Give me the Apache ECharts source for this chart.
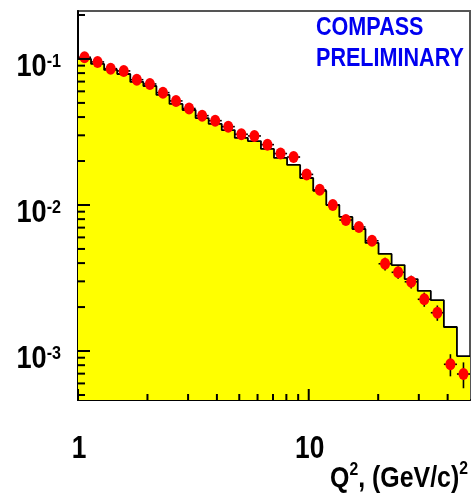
<!DOCTYPE html>
<html>
<head>
<meta charset="utf-8">
<script src="https://cdn.jsdelivr.net/npm/echarts@6/dist/echarts.min.js"></script>
<style>
  html, body { margin: 0; padding: 0; background: #ffffff; }
  #chart { width: 471px; height: 499px; }
</style>
</head>
<body>
<div id="chart"></div>
<script>
// Q^2 binning (GeV/c)^2: 30 log-uniform bins from 1 to 50
const qEdges = [1.000, 1.139, 1.298, 1.479, 1.685, 1.920, 2.187, 2.492, 2.839, 3.234,
                3.684, 4.198, 4.782, 5.448, 6.207, 7.071, 8.056, 9.178, 10.457, 11.913,
                13.572, 15.463, 17.617, 20.071, 22.867, 26.052, 29.680, 33.815, 38.525, 43.891,
                50.000];

// Monte Carlo histogram (yellow, black outline)
const mcValues = [0.1000, 0.0924, 0.0841, 0.0789, 0.0696, 0.0653, 0.0567, 0.0492, 0.0447, 0.0394,
                  0.0359, 0.0326, 0.0288, 0.0274, 0.0242, 0.0210, 0.0188, 0.0153, 0.0125, 0.0100,
                  0.00828, 0.00685, 0.00550, 0.00462, 0.00388, 0.00311, 0.00258, 0.00223, 0.00146, 0.000924];

// Measured data (red markers) and their statistical errors
const dataValues = [0.1027, 0.0954, 0.0858, 0.0828, 0.0721, 0.0674, 0.0588, 0.0516, 0.0458, 0.0409,
                    0.0378, 0.0344, 0.0305, 0.0297, 0.0259, 0.0225, 0.0213, 0.0162, 0.0127, 0.0100,
                    0.00789, 0.00707, 0.00569, 0.00396, 0.00346, 0.00298, 0.00226, 0.00183, 0.000811, 0.000696];
const dataErrors = [0.0020, 0.0020, 0.0018, 0.0017, 0.0015, 0.0014, 0.0013, 0.0012, 0.0011, 0.0010,
                    0.0010, 0.0009, 0.0009, 0.0009, 0.0008, 0.0008, 0.0008, 0.0007, 0.0006, 0.0005,
                    0.0004, 0.0004, 0.00035, 0.0004, 0.00033, 0.00030, 0.00025, 0.00022, 0.00014, 0.00014];

// Axis ranges
const X_MIN = 1, X_MAX = 50;
const Y_MIN = 4.62e-4, Y_MAX = 0.213;

// Tick marks and tick labels
const xMajorTicks = [1, 10];
const xMinorTicks = [2, 3, 4, 5, 6, 7, 8, 9, 20, 30, 40];
const yMajorTicks = [0.001, 0.01, 0.1];
const yMinorTicks = [5e-4, 6e-4, 7e-4, 8e-4, 9e-4,
                     0.002, 0.003, 0.004, 0.005, 0.006, 0.007, 0.008, 0.009,
                     0.02, 0.03, 0.04, 0.05, 0.06, 0.07, 0.08, 0.09, 0.2];
const xLabelValues = [1, 10];
const xLabelTexts = ['1', '10'];
const yLabelValues = [0.001, 0.01, 0.1];
const yLabelBase = '10';
const yLabelExponents = ['-3', '-2', '-1'];
const xTitleParts = ['Q', '2', ', (GeV/c)', '2'];
const watermark = ['COMPASS', 'PRELIMINARY'];

const FONT = '"Liberation Sans", Arial, Helvetica, sans-serif';
const measureCtx = document.createElement('canvas').getContext('2d');
function textWidth(str, size) {
  measureCtx.font = 'bold ' + size + 'px ' + FONT;
  return measureCtx.measureText(str).width;
}

// Lay out a run of text pieces (base text + superscripts) as a horizontally condensed group
function textRun(pieces, ax, ay, align, sx) {
  let x = 0;
  const children = [];
  pieces.forEach(p => {
    children.push({
      type: 'text',
      x: x, y: p.dy,
      style: {
        text: p.t, fontSize: p.size, fontWeight: 'bold', fontFamily: FONT,
        fill: '#000000', align: 'left', verticalAlign: 'middle'
      }
    });
    x += textWidth(p.t, p.size);
  });
  const shift = align === 'right' ? -x : (align === 'center' ? -x / 2 : 0);
  children.forEach(c => { c.x += shift; });
  return { type: 'group', x: ax, y: ay, scaleX: sx, children: children };
}

// Histogram outline points: lower bin edges plus the last upper edge
const histPoints = mcValues.map((v, i) => [qEdges[i], v]);
histPoints.push([qEdges[qEdges.length - 1], mcValues[mcValues.length - 1]]);

// Data points sit at the logarithmic bin centres
const binCenters = dataValues.map((v, i) => Math.sqrt(qEdges[i] * qEdges[i + 1]));
const pointData = dataValues.map((v, i) => [binCenters[i], v]);
const errorData = dataValues.map((v, i) => [binCenters[i], v, qEdges[i], qEdges[i + 1], dataErrors[i]]);

const tickItems = [];
xMajorTicks.forEach(v => tickItems.push([v, 0, 1]));
xMinorTicks.forEach(v => tickItems.push([v, 0, 0]));
yMajorTicks.forEach(v => tickItems.push([v, 1, 1]));
yMinorTicks.forEach(v => tickItems.push([v, 1, 0]));

const chart = echarts.init(document.getElementById('chart'), null, { renderer: 'canvas' });

chart.setOption({
  animation: false,
  backgroundColor: '#ffffff',
  grid: {
    left: 78, right: 1, top: 11, bottom: 99,
    show: true, borderColor: '#555555', borderWidth: 2, backgroundColor: 'transparent'
  },
  xAxis: {
    type: 'log', logBase: 10, min: X_MIN, max: X_MAX,
    axisLine: { show: true, onZero: false, lineStyle: { color: '#000000', width: 2 } },
    axisTick: { show: false }, axisLabel: { show: false },
    splitLine: { show: false }, minorTick: { show: false }
  },
  yAxis: {
    type: 'log', logBase: 10, min: Y_MIN, max: Y_MAX,
    axisLine: { show: true, onZero: false, lineStyle: { color: '#000000', width: 2 } },
    axisTick: { show: false }, axisLabel: { show: false },
    splitLine: { show: false }, minorTick: { show: false }
  },
  graphic: watermark.map((t, i) => ({
    type: 'text',
    x: 316, y: i === 0 ? 27.5 : 58.5,
    scaleX: 0.83,
    z: 100,
    style: {
      text: t, fontSize: 26, fontWeight: 'bold', fontFamily: FONT,
      fill: '#0000f0', align: 'left', verticalAlign: 'middle'
    }
  })),
  series: [
    {
      name: 'MC',
      type: 'line',
      step: 'end',
      data: histPoints,
      symbol: 'none',
      z: 2,
      lineStyle: { color: '#000000', width: 1.8 },
      areaStyle: { color: '#ffff00', opacity: 1, origin: 'start' }
    },
    {
      name: 'errors',
      type: 'custom',
      z: 3,
      data: errorData,
      encode: { x: 0, y: 1 },
      renderItem: function (params, api) {
        const c = api.value(0), v = api.value(1), lo = api.value(2), hi = api.value(3), e = api.value(4);
        const pl = api.coord([lo, v]), ph = api.coord([hi, v]);
        const pt = api.coord([c, v + e]), pb = api.coord([c, v - e]);
        const st = { stroke: '#000000', lineWidth: 1.6 };
        return {
          type: 'group',
          children: [
            { type: 'line', shape: { x1: pl[0], y1: pl[1], x2: ph[0], y2: ph[1] }, style: st },
            { type: 'line', shape: { x1: pt[0], y1: pt[1], x2: pb[0], y2: pb[1] }, style: st }
          ]
        };
      }
    },
    {
      name: 'Data',
      type: 'scatter',
      z: 4,
      data: pointData,
      symbol: 'circle',
      symbolSize: [10, 12],
      itemStyle: { color: '#ff0000', opacity: 1 }
    },
    {
      name: 'ticks',
      type: 'custom',
      z: 5,
      silent: true,
      data: tickItems,
      encode: { x: 0 },
      renderItem: function (params, api) {
        const v = api.value(0), axis = api.value(1), major = api.value(2);
        const st = { stroke: '#000000', lineWidth: 2 };
        if (axis === 0) {
          const p = api.coord([v, Y_MIN]);
          const len = major ? 11 : 6;
          return { type: 'line', shape: { x1: p[0], y1: p[1], x2: p[0], y2: p[1] - len }, style: st };
        }
        const p = api.coord([X_MIN, v]);
        const len = major ? 12 : 7;
        return { type: 'line', shape: { x1: p[0], y1: p[1], x2: p[0] + len, y2: p[1] }, style: st };
      }
    },
    {
      name: 'yLabels',
      type: 'custom',
      z: 6,
      silent: true,
      data: yLabelValues.map(v => [v]),
      encode: { y: 0 },
      renderItem: function (params, api) {
        const p = api.coord([X_MIN, api.value(0)]);
        return textRun([
          { t: yLabelBase, size: 32, dy: 8 },
          { t: yLabelExponents[params.dataIndex], size: 19, dy: 3 }
        ], p[0] - 17, p[1], 'right', 0.85);
      }
    },
    {
      name: 'xLabels',
      type: 'custom',
      z: 6,
      silent: true,
      data: xLabelValues.map(v => [v]),
      encode: { x: 0 },
      renderItem: function (params, api) {
        const p = api.coord([api.value(0), Y_MIN]);
        return textRun([{ t: xLabelTexts[params.dataIndex], size: 31, dy: 0 }], p[0] + 1, p[1] + 49, 'center', 0.85);
      }
    },
    {
      name: 'xTitle',
      type: 'custom',
      z: 6,
      silent: true,
      data: [[X_MAX]],
      encode: { x: 0 },
      renderItem: function (params, api) {
        const p = api.coord([X_MAX, Y_MIN]);
        return textRun([
          { t: xTitleParts[0], size: 30, dy: 0 },
          { t: xTitleParts[1], size: 19, dy: -8.5 },
          { t: xTitleParts[2], size: 30, dy: 0 },
          { t: xTitleParts[3], size: 19, dy: -9.5 }
        ], p[0] - 2, p[1] + 78.5, 'right', 0.83);
      }
    }
  ]
});
</script>
</body>
</html>
